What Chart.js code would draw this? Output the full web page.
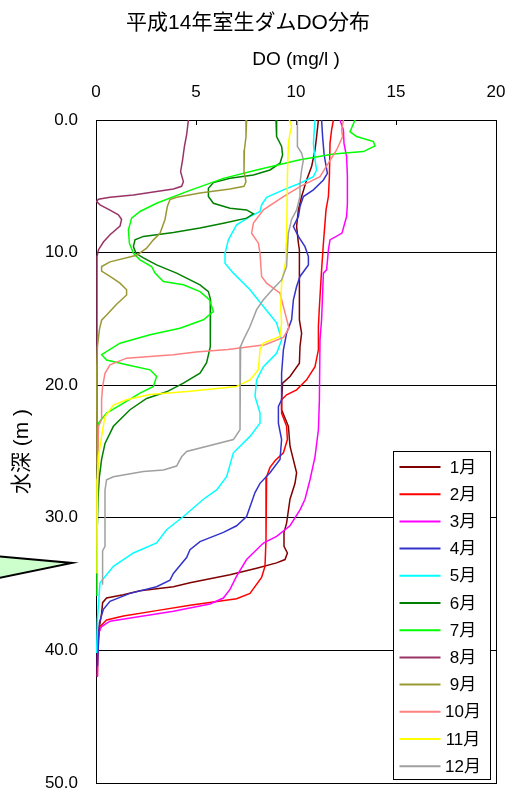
<!DOCTYPE html>
<html lang="ja">
<head>
<meta charset="utf-8">
<title>平成14年室生ダムDO分布</title>
<script src="https://cdn.jsdelivr.net/npm/chart.js@4.4.1/dist/chart.umd.min.js"></script>
<style>
  html, body { margin: 0; padding: 0; background: #fff; }
  canvas { display: block; }
</style>
</head>
<body>
<canvas id="chart" width="509" height="798"></canvas>
<script>
// ---- Monthly DO profiles of 室生ダム (2002): depth in m, DO in mg/l ----
const months = ['1月', '2月', '3月', '4月', '5月', '6月', '7月', '8月', '9月', '10月', '11月', '12月'];
const lineColors = ['#800000', '#FF0000', '#FF00FF', '#3333CC', '#00FFFF', '#008000',
                    '#00FF00', '#993366', '#999933', '#FF8080', '#FFFF00', '#A0A0A0'];

const xTicks = [0, 5, 10, 15, 20];
const yTicks = [0, 10, 20, 30, 40, 50];
const waterMarkDepth = 33.4;

const depthJan = [0, 1.25, 2.26, 3.51, 4.52, 5.77, 6.78, 8.03, 9.29, 9.8, 11.3, 15.07, 16.08, 17.08, 18.34, 19.34, 19.85, 21.1, 21.85, 23.1, 24.6, 26.6, 27.4, 28.6, 30.4, 31.1, 32.15, 32.65, 33.15, 33.4, 33.8, 34.3, 34.9, 35.2, 35.5, 35.8, 36.05, 36.4, 37.2, 38.7, 40.2];
const doJan    = [11.12, 11.03, 10.95, 10.78, 10.53, 10.28, 10.12, 10.03, 10.12, 10.17, 10.17, 10.17, 10.28, 10.2, 10.17, 9.7, 9.33, 9.28, 9.28, 9.62, 9.7, 10.03, 9.95, 9.7, 9.53, 9.4, 9.4, 9.57, 9.45, 9.03, 8.03, 6.7, 4.7, 3.87, 2.2, 1.37, 0.53, 0.33, 0.28, 0.12, 0.07];

const depthFeb = [0, 0.75, 1.76, 4.27, 5.77, 6.78, 7.78, 9.29, 11.3, 14.07, 15.57, 17.33, 18.6, 19.6, 20.35, 20.72, 21.1, 22.1, 23.1, 24.1, 25.1, 25.7, 26.2, 26.9, 31.65, 33.66, 34.5, 35.7, 36.1, 36.6, 37.0, 37.4, 37.7, 38.2, 39.2, 41.95];
const doFeb    = [11.87, 11.78, 11.7, 11.67, 11.62, 11.5, 11.45, 11.37, 11.28, 11.17, 11.12, 11.12, 10.95, 10.53, 10.03, 9.53, 9.28, 9.28, 9.53, 9.57, 9.37, 8.95, 8.7, 8.53, 8.5, 8.45, 8.28, 7.7, 7.03, 4.7, 3.03, 1.37, 0.53, 0.2, 0.12, 0.07];

const depthMar = [0, 0.75, 1.76, 2.76, 4.27, 6.28, 7.28, 8.53, 9.04, 9.8, 11.3, 11.55, 15.07, 16.58, 21.1, 23.36, 25.4, 27.13, 28.6, 29.4, 30.6, 31.4, 31.9, 33.15, 34.4, 35.4, 36.05, 36.5, 37.05, 37.45, 37.8, 38.2, 38.7, 40.5, 42.0];
const doMar    = [12.2, 12.37, 12.4, 12.53, 12.57, 12.57, 12.53, 12.3, 11.7, 11.62, 11.53, 11.37, 11.28, 11.2, 11.17, 11.12, 10.95, 10.7, 10.45, 10.2, 9.7, 9.03, 8.37, 7.53, 7.03, 6.7, 6.37, 5.7, 3.87, 2.2, 0.7, 0.28, 0.12, 0.07, 0.07];

const depthApr = [0, 1.25, 2.5, 3.0, 4.02, 4.52, 5.27, 5.77, 6.53, 7.28, 8.03, 8.78, 9.55, 10.3, 10.93, 11.8, 12.56, 13.56, 15.07, 16.08, 17.33, 19.1, 21.1, 21.6, 22.86, 24.1, 25.6, 26.6, 27.4, 28.1, 29.9, 30.6, 31.1, 31.8, 32.4, 33.0, 34.2, 34.7, 35.2, 35.7, 36.3, 36.9, 37.9, 41.2];
const doApr    = [11.28, 11.33, 11.4, 11.45, 11.57, 11.37, 10.87, 10.37, 10.2, 10.12, 9.87, 10.12, 10.45, 10.62, 10.62, 10.2, 10.03, 9.87, 9.78, 9.53, 9.37, 9.28, 9.28, 9.12, 9.12, 9.28, 9.2, 8.7, 8.2, 7.95, 7.53, 7.03, 6.37, 5.2, 4.7, 4.53, 3.87, 3.7, 3.03, 1.7, 0.7, 0.37, 0.17, 0.07];

const depthMay = [0, 1.76, 3.0, 3.77, 4.27, 4.77, 5.27, 5.83, 6.4, 6.9, 7.28, 7.9, 9.04, 10.05, 10.8, 11.55, 12.8, 14.07, 15.3, 16.6, 17.6, 18.6, 19.6, 20.85, 22.1, 22.86, 23.86, 25.1, 26.9, 27.9, 28.6, 29.9, 30.9, 31.9, 32.65, 33.66, 34.9, 37.7, 40.2];
const doMay    = [10.95, 10.87, 10.95, 11.03, 10.87, 10.2, 9.37, 8.53, 8.28, 8.2, 7.7, 7.03, 6.62, 6.45, 6.45, 6.87, 7.7, 8.37, 9.03, 9.28, 9.03, 8.37, 8.03, 7.95, 8.2, 8.2, 7.7, 6.87, 6.53, 6.03, 5.37, 4.37, 3.53, 3.03, 1.87, 0.87, 0.2, 0.07, 0.03];

const depthJun = [0, 1.25, 2.0, 2.63, 3.26, 3.77, 4.14, 4.4, 4.72, 5.15, 5.77, 6.28, 6.65, 6.78, 7.08, 7.4, 7.78, 8.15, 8.48, 8.78, 9.04, 9.55, 10.05, 10.4, 10.93, 11.55, 12.43, 12.94, 13.56, 14.8, 17.1, 18.3, 19.1, 19.85, 20.5, 21.0, 21.85, 23.1, 24.4, 25.6, 26.9, 28.5, 30.5];
const doJun    = [9.0, 9.03, 9.28, 9.33, 9.2, 8.7, 7.87, 6.7, 5.87, 5.62, 5.62, 5.87, 6.7, 7.53, 7.87, 7.53, 6.37, 5.2, 3.87, 2.37, 1.95, 1.87, 2.0, 2.37, 3.03, 4.03, 5.2, 5.62, 5.73, 5.73, 5.7, 5.53, 5.2, 4.37, 3.53, 2.53, 1.7, 0.87, 0.45, 0.28, 0.17, 0.1, 0.07];

const depthJul = [0, 0.88, 1.25, 1.63, 1.96, 2.38, 2.56, 3.0, 3.77, 4.4, 5.4, 6.28, 6.9, 7.4, 8.29, 9.29, 10.05, 10.55, 11.05, 11.55, 12.18, 12.43, 12.94, 13.56, 14.44, 15.07, 15.7, 16.2, 16.83, 17.7, 18.1, 18.46, 18.84, 19.34, 20.1, 20.6, 21.35, 22.1, 22.86, 27.0, 35.9];
const doJul    = [12.95, 12.7, 13.03, 13.87, 13.95, 13.37, 11.87, 10.2, 8.03, 6.37, 4.53, 3.03, 2.2, 1.78, 1.62, 1.67, 1.87, 2.2, 2.78, 2.95, 3.37, 4.37, 5.2, 5.67, 5.87, 5.37, 4.2, 2.7, 1.2, 0.28, 0.53, 1.53, 2.7, 3.03, 2.87, 2.2, 1.37, 0.53, 0.12, 0.07, 0.05];

const depthAug = [0, 1.13, 2.0, 3.0, 3.9, 4.65, 5.0, 5.2, 5.4, 5.65, 5.83, 5.98, 6.15, 6.4, 6.8, 7.15, 7.5, 8.0, 8.65, 9.2, 9.8, 10.3, 18.0, 26.0];
const doAug    = [4.62, 4.53, 4.42, 4.33, 4.23, 4.37, 4.28, 3.87, 3.03, 1.87, 0.7, 0.12, 0.03, 0.2, 0.7, 1.12, 1.28, 1.2, 0.7, 0.37, 0.12, 0.05, 0.05, 0.05];

const depthSep = [0, 1.25, 2.26, 3.9, 4.65, 5.0, 5.2, 5.5, 5.83, 6.0, 6.5, 7.5, 8.55, 9.04, 9.67, 10.2, 10.7, 11.05, 11.4, 11.8, 12.3, 12.8, 13.2, 13.9, 14.7, 15.1, 15.8, 17.1, 19.1, 25.0, 32.2];
const doSep    = [7.53, 7.5, 7.42, 7.4, 7.5, 7.4, 6.7, 5.2, 4.03, 3.7, 3.57, 3.45, 3.2, 2.87, 2.53, 2.03, 0.7, 0.28, 0.28, 0.7, 1.2, 1.53, 1.53, 1.03, 0.53, 0.28, 0.17, 0.07, 0.03, 0.05, 0.05];

const depthOct = [0, 0.75, 1.25, 2.26, 3.26, 4.27, 5.02, 5.77, 6.78, 7.78, 8.54, 9.29, 10.05, 11.8, 12.3, 13.06, 14.07, 15.7, 16.4, 16.95, 17.3, 17.5, 17.7, 17.96, 18.46, 19.1, 20.1, 21.1, 22.6, 23.1, 30.0];
const doOct    = [12.37, 12.28, 12.33, 12.03, 11.62, 11.2, 10.2, 9.37, 8.37, 7.87, 7.78, 8.12, 8.2, 8.28, 8.53, 9.2, 9.37, 9.65, 9.37, 8.45, 6.6, 5.0, 3.87, 1.53, 0.7, 0.45, 0.33, 0.28, 0.28, 0.12, 0.05];

const depthNov = [0, 0.5, 1.0, 1.76, 4.27, 9.3, 10.55, 12.3, 14.07, 15.3, 16.33, 16.83, 17.33, 18.84, 19.6, 20.1, 20.46, 20.7, 21.1, 21.5, 22.36, 23.86, 25.4, 27.1, 34.2];
const doNov    = [9.67, 9.78, 9.7, 9.62, 9.57, 9.53, 9.5, 9.28, 9.23, 9.28, 9.2, 8.37, 8.2, 8.12, 7.7, 7.03, 4.7, 2.7, 1.53, 0.87, 0.45, 0.28, 0.12, 0.07, 0.05];

const depthDec = [0, 2.0, 2.5, 3.0, 3.77, 4.77, 5.77, 6.78, 7.5, 8.53, 9.8, 11.05, 12.06, 12.7, 13.56, 14.3, 15.57, 16.58, 17.08, 19.1, 23.36, 24.1, 25.0, 25.4, 26.1, 26.4, 26.5, 26.9, 27.13, 27.9, 32.15, 32.5, 35.04];
const doDec    = [10.07, 10.07, 10.28, 10.37, 10.28, 10.2, 10.2, 10.03, 9.78, 9.62, 9.57, 9.53, 9.28, 8.87, 8.37, 8.03, 7.7, 7.37, 7.23, 7.2, 7.2, 6.87, 4.53, 4.28, 4.03, 3.37, 2.37, 0.87, 0.53, 0.45, 0.45, 0.33, 0.33];

const profiles = [
  [depthJan, doJan], [depthFeb, doFeb], [depthMar, doMar], [depthApr, doApr],
  [depthMay, doMay], [depthJun, doJun], [depthJul, doJul], [depthAug, doAug],
  [depthSep, doSep], [depthOct, doOct], [depthNov, doNov], [depthDec, doDec]
];

const FONT = "'Liberation Sans', 'Noto Sans CJK JP', Arial, sans-serif";

const datasets = months.map((label, i) => ({
  label,
  data: profiles[i][0].map((d, k) => ({ x: profiles[i][1][k], y: d })),
  borderColor: lineColors[i],
  backgroundColor: lineColors[i],
  borderWidth: 1.5,
  pointRadius: 0,
  showLine: true,
  tension: 0,
  order: months.length - i   // later months are painted on top
}));

// keep the tick-label overhang from shrinking the plot area
function clearScalePadding(scale) {
  scale.paddingLeft = 0;
  scale.paddingRight = 0;
  scale.paddingTop = 0;
  scale.paddingBottom = 0;
}

// Frame around the plot, water-level marker and the boxed legend
const decorations = {
  id: 'decorations',
  beforeDatasetsDraw(chart) {
    const { ctx, chartArea: a } = chart;
    ctx.save();
    ctx.strokeStyle = '#000';
    ctx.lineWidth = 1;
    ctx.strokeRect(Math.round(a.left) + 0.5, Math.round(a.top) + 0.5,
                   Math.round(a.right - a.left), Math.round(a.bottom - a.top));
    ctx.restore();
  },
  afterDraw(chart) {
    const { ctx, chartArea: a, scales } = chart;
    ctx.save();

    // water-level marker left of the depth axis
    const tipY = scales.y.getPixelForValue(waterMarkDepth);
    const tipX = a.left - 24;
    ctx.beginPath();
    ctx.moveTo(-6, tipY - 7);
    ctx.lineTo(tipX, tipY);
    ctx.lineTo(-6, tipY + 16);
    ctx.closePath();
    ctx.fillStyle = '#CCFFCC';
    ctx.fill();
    ctx.lineWidth = 2;
    ctx.strokeStyle = '#000';
    ctx.stroke();

    // legend box
    const boxW = 97, boxH = 328;
    const bx = Math.round(a.right) - 6 - boxW + 0.5;
    const by = Math.round(a.bottom) - 4 - boxH + 0.5;
    ctx.fillStyle = '#fff';
    ctx.fillRect(bx, by, boxW, boxH);
    ctx.lineWidth = 1;
    ctx.strokeStyle = '#000';
    ctx.strokeRect(bx, by, boxW, boxH);

    const rowH = 27.2;
    ctx.font = "17px " + FONT;
    ctx.textAlign = 'center';
    ctx.textBaseline = 'middle';
    chart.data.datasets.forEach((ds, i) => {
      const ry = by + 15.5 + i * rowH;
      ctx.beginPath();
      ctx.moveTo(bx + 6, ry);
      ctx.lineTo(bx + 47, ry);
      ctx.strokeStyle = ds.borderColor;
      ctx.lineWidth = 2;
      ctx.stroke();
      ctx.fillStyle = '#000';
      ctx.fillText(ds.label, bx + 69.5, ry + 1);
    });
    ctx.restore();
  }
};

Chart.defaults.color = '#000';
Chart.defaults.font.family = FONT;

new Chart(document.getElementById('chart'), {
  type: 'scatter',
  data: { datasets },
  plugins: [decorations],
  options: {
    responsive: false,
    animation: false,
    layout: { padding: { left: 0, top: 0, right: 13, bottom: 15 } },
    plugins: {
      legend: { display: false },
      tooltip: { enabled: false },
      title: {
        display: true,
        text: '平成14年室生ダムDO分布',
        color: '#000',
        font: { size: 21, weight: 'normal', family: FONT },
        padding: { top: 11, bottom: 0 }
      }
    },
    scales: {
      x: {
        type: 'linear',
        position: 'top',
        min: 0,
        max: 20,
        afterFit(scale) { scale.height = 83.8; clearScalePadding(scale); },
        afterBuildTicks(scale) { scale.ticks = xTicks.map(v => ({ value: v })); },
        ticks: { font: { size: 17 }, padding: 22.8, color: '#000' },
        grid: { drawOnChartArea: false, drawTicks: true, tickLength: -5, color: '#000' },
        border: { display: true, color: '#000', width: 1 },
        title: {
          display: true,
          text: 'DO (mg/l )',
          font: { size: 19 },
          padding: { top: 12.4, bottom: 0 },
          color: '#000'
        }
      },
      y: {
        type: 'linear',
        position: 'left',
        reverse: true,
        min: 0,
        max: 50,
        afterFit(scale) { scale.width = 96; clearScalePadding(scale); },
        afterBuildTicks(scale) { scale.ticks = yTicks.map(v => ({ value: v })); },
        ticks: {
          font: { size: 17 },
          padding: 18,
          color: '#000',
          callback: v => Number(v).toFixed(1)
        },
        grid: { color: '#000', lineWidth: 1, drawTicks: false },
        border: { display: true, color: '#000', width: 1 },
        title: {
          display: true,
          text: '水深 (m )',
          font: { size: 21 },
          padding: { top: 9.4, bottom: 0 },
          color: '#000'
        }
      }
    }
  }
});
</script>
</body>
</html>
